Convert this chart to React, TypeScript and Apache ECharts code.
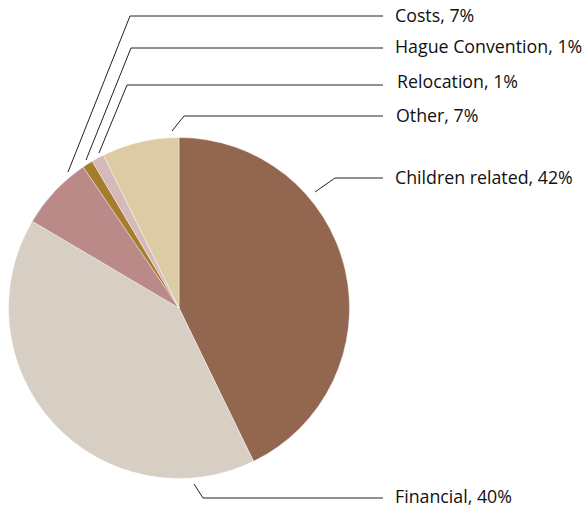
import React, { useEffect, useRef } from "react";
import * as echarts from "echarts";

const categories = ["Children related", "Financial", "Costs", "Hague Convention", "Relocation", "Other"];
const shares = [42.8, 40.7, 7.0, 1.0, 1.2, 7.3];
const colors = ["#93674F", "#D8CFC4", "#B98A88", "#A67C2E", "#D6BABA", "#DCCBA5"];

// label anchor rows and leader-line geometry (layout only)
const labelX = [395, 395, 395, 395, 397, 396];
const labelY = [177, 496, 15, 46, 81, 115];
const linePts: number[][][] = [
  [[315, 192], [335, 178], [383, 178]],
  [[194, 484], [203, 498], [383, 498]],
  [[68, 172], [130, 16], [383, 16]],
  [[86, 160], [131, 48], [383, 48]],
  [[99, 153], [127, 85], [383, 85]],
  [[172, 131], [184, 116], [383, 116]],
];

export default function App() {
  const ref = useRef<HTMLDivElement>(null);
  useEffect(() => {
    if (!ref.current) return;
    const chart = echarts.init(ref.current, undefined, { renderer: "svg" });
    chart.setOption({
      animation: false,
      backgroundColor: "#ffffff",
      series: [
        {
          type: "pie",
          center: [179, 308],
          radius: [0, 170.5],
          startAngle: 90,
          clockwise: true,
          avoidLabelOverlap: false,
          itemStyle: { borderColor: "#ffffff", borderWidth: 0.4 },
          data: categories.map((c, i) => ({
            name: c,
            value: shares[i],
            itemStyle: { color: colors[i] },
          })),
          label: {
            show: true,
            position: "outside",
            fontFamily: "Open Sans",
            fontSize: 17.8,
            color: "#111111",
            formatter: (p: any) => `${p.name}, ${Math.floor(p.percent)}%`,
          },
          labelLine: {
            show: true,
            lineStyle: { color: "#222222", width: 1 },
          },
          labelLayout: (params: any) => {
            const i = params.dataIndex;
            return {
              x: labelX[i],
              y: labelY[i],
              align: "left",
              verticalAlign: "middle",
              labelLinePoints: linePts[i],
            };
          },
        },
      ],
    });
    return () => chart.dispose();
  }, []);
  return (
    <div
      ref={ref}
      style={{ position: "fixed", left: 0, top: 0, width: 586, height: 511 }}
    />
  );
}
